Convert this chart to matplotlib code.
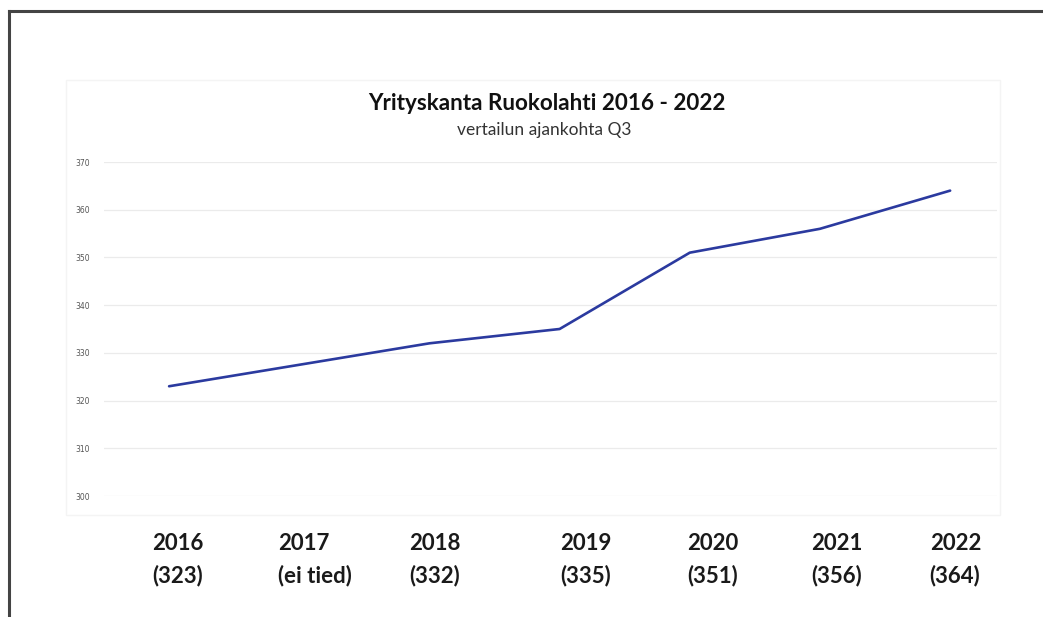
import matplotlib.pyplot as plt
from matplotlib.lines import Line2D
from matplotlib.patches import Rectangle
from matplotlib.transforms import blended_transform_factory

# data (2017 has no value: "ei tied")
years = ["2016", "2017", "2018", "2019", "2020", "2021", "2022"]
companies = [323, None, 332, 335, 351, 356, 364]
value_labels = ["(323)", "(ei tied)", "(332)", "(335)", "(351)", "(356)", "(364)"]
y_ticks = [300, 310, 320, 330, 340, 350, 360, 370]

# the bottom labels were hand-placed text boxes, slightly off the categories
label_shift = [0.07, 0.12, 0.04, 0.20, 0.18, 0.13, 0.04]

LINE_COLOR = "#2b3a9f"
FONT = ["Lato", "DejaVu Sans"]

fig = plt.figure(figsize=(10.43, 6.17), dpi=100)
fig.patch.set_facecolor("white")

# scanned page frame (top and left edge)
fig.add_artist(Line2D([9 / 1043, 1.0], [1 - 11 / 617, 1 - 11 / 617],
                      color="#444444", lw=2.2, transform=fig.transFigure))
fig.add_artist(Line2D([9 / 1043, 9 / 1043], [0.0, 1 - 11 / 617],
                      color="#444444", lw=2.2, transform=fig.transFigure))

# faint chart-area border
fig.add_artist(Rectangle((66 / 1043, 1 - 515 / 617), (1000 - 66) / 1043, (515 - 80) / 617,
                         fill=False, edgecolor="#f4f4f4", lw=1.0,
                         transform=fig.transFigure))

ax = fig.add_axes([104 / 1043, 1 - 496 / 617, 893 / 1043, 334 / 617])

xs = [i for i, v in enumerate(companies) if v is not None]
ys = [v for v in companies if v is not None]
ax.plot(xs, ys, color=LINE_COLOR, lw=1.9, solid_capstyle="round", zorder=3)

ax.set_xlim(-0.5, 6.36)
ax.set_ylim(300, 370)
ax.set_yticks(y_ticks)
ax.set_yticklabels([str(t) for t in y_ticks], fontsize=5.5, color="#555555")
ax.tick_params(axis="y", length=0, pad=10)
ax.set_xticks([])
ax.grid(axis="y", color="#ebebeb", lw=0.9)
ax.set_axisbelow(True)
for spine in ax.spines.values():
    spine.set_visible(False)

trans = blended_transform_factory(ax.transData, ax.transAxes)
for i, (year, label) in enumerate(zip(years, value_labels)):
    ax.text(i + label_shift[i], -0.19, f"{year}\n{label}", transform=trans,
            ha="center", va="center", multialignment="left",
            fontsize=16, fontweight="bold", family=FONT, color="#1a1a1a",
            linespacing=1.6)

fig.text(547 / 1043, 1 - 104 / 617, "Yrityskanta Ruokolahti 2016 - 2022",
         ha="center", va="center", fontsize=16.2, fontweight="bold",
         family=FONT, color="#111111")
fig.text(544 / 1043, 1 - 130 / 617, "vertailun ajankohta Q3",
         ha="center", va="center", fontsize=12.5, family=FONT, color="#333333")

fig.savefig("out.png", dpi=100)
